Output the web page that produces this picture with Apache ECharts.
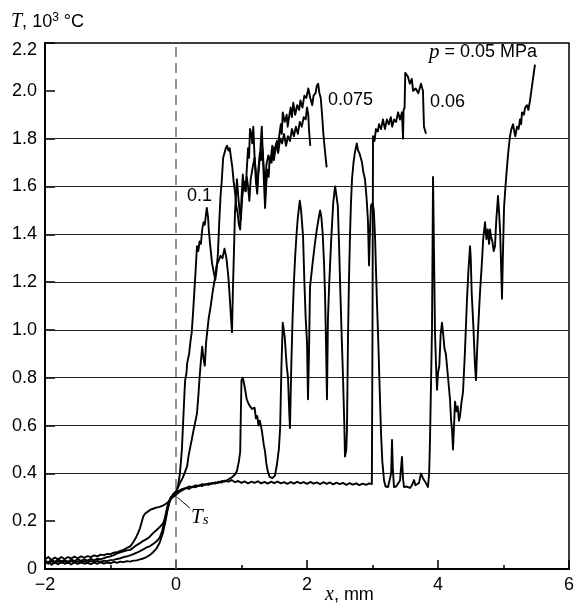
<!DOCTYPE html>
<html><head><meta charset="utf-8">
<script src="https://cdn.jsdelivr.net/npm/echarts@6/dist/echarts.min.js"></script>
<style>html,body{margin:0;padding:0;background:#fff}#c{width:579px;height:609px}</style>
</head><body><div id="c"></div>
<script>
// ---------- data (x in mm, T in 10^3 °C) ----------
const xTickLabels = ['\u22122', '0', '2', '4', '6'];
const yTickLabels = ['0', '0.2', '0.4', '0.6', '0.8', '1.0', '1.2', '1.4', '1.6', '1.8', '2.0', '2.2'];
const gridLevels = [0.4, 0.6, 0.8, 1.0, 1.2, 1.4, 1.6, 1.8];
const seriesNames = ['p = 0.1', 'p = 0.075', 'p = 0.06', 'p = 0.05'];

const curveP01 = [[-2,0.022],[-1.95,0.03],[-1.9,0.018],[-1.85,0.028],[-1.8,0.02],[-1.75,0.03],[-1.7,0.022],[-1.65,0.027],[-1.6,0.019],[-1.55,0.028],[-1.5,0.021],[-1.45,0.029],[-1.4,0.022],[-1.35,0.026],[-1.3,0.02],[-1.25,0.027],[-1.2,0.022],[-1.15,0.028],[-1.1,0.023],[-1.05,0.027],[-1.0,0.024],[-0.95,0.03],[-0.9,0.026],[-0.85,0.031],[-0.8,0.029],[-0.75,0.033],[-0.7,0.031],[-0.65,0.035],[-0.6,0.036],[-0.55,0.04],[-0.5,0.044],[-0.45,0.05],[-0.4,0.058],[-0.35,0.07],[-0.3,0.085],[-0.25,0.11],[-0.2,0.15],[-0.16,0.2],[-0.13,0.245],[-0.1,0.28],[-0.07,0.3],[-0.04,0.315],[0,0.325],[0.03,0.345],[0.06,0.40],[0.09,0.5],[0.11,0.62],[0.13,0.74],[0.14,0.79],[0.16,0.82],[0.17,0.86],[0.2,0.9],[0.22,0.95],[0.24,0.99],[0.26,1.07],[0.28,1.16],[0.3,1.25],[0.32,1.35],[0.34,1.33],[0.36,1.37],[0.38,1.36],[0.4,1.42],[0.42,1.45],[0.44,1.44],[0.46,1.49],[0.47,1.51],[0.49,1.47],[0.5,1.42],[0.52,1.36],[0.55,1.28],[0.57,1.25],[0.6,1.21],[0.62,1.25],[0.64,1.32],[0.66,1.45],[0.68,1.56],[0.7,1.63],[0.72,1.72],[0.74,1.74],[0.76,1.76],[0.78,1.77],[0.8,1.75],[0.82,1.76],[0.84,1.72],[0.86,1.68],[0.88,1.62],[0.9,1.58],[0.92,1.52],[0.94,1.49],[0.96,1.44],[0.98,1.42],[1.0,1.55],[1.02,1.65],[1.035,1.6],[1.05,1.62],[1.065,1.58],[1.08,1.67],[1.1,1.76],[1.115,1.72],[1.13,1.84],[1.15,1.82],[1.165,1.78],[1.18,1.85],[1.2,1.72],[1.22,1.66],[1.24,1.60],[1.26,1.66],[1.28,1.72],[1.3,1.81],[1.31,1.85],[1.33,1.70],[1.36,1.51],[1.38,1.62],[1.4,1.67],[1.415,1.64],[1.43,1.72],[1.46,1.70],[1.48,1.76],[1.495,1.71],[1.51,1.74],[1.54,1.79],[1.555,1.75],[1.57,1.80],[1.6,1.86],[1.615,1.82],[1.63,1.91],[1.66,1.87],[1.69,1.90],[1.705,1.85],[1.72,1.88],[1.75,1.93],[1.77,1.89],[1.79,1.95],[1.82,1.90],[1.85,1.94],[1.88,1.92],[1.9,1.96],[1.93,1.93],[1.96,1.98],[1.99,1.97],[2.02,2.01],[2.05,1.97],[2.08,1.94],[2.1,1.98],[2.13,1.99],[2.15,2.02],[2.17,2.03],[2.19,1.99],[2.21,1.97],[2.23,1.90],[2.25,1.82],[2.27,1.76],[2.3,1.68]];

const curveP0075 = [[-2,0.03],[-1.95,0.022],[-1.9,0.032],[-1.85,0.024],[-1.8,0.033],[-1.75,0.025],[-1.7,0.032],[-1.65,0.026],[-1.6,0.033],[-1.55,0.027],[-1.5,0.032],[-1.45,0.026],[-1.4,0.033],[-1.35,0.028],[-1.3,0.034],[-1.25,0.029],[-1.2,0.034],[-1.15,0.03],[-1.1,0.035],[-1.05,0.033],[-1.0,0.037],[-0.95,0.038],[-0.9,0.042],[-0.85,0.045],[-0.8,0.05],[-0.75,0.053],[-0.7,0.057],[-0.65,0.062],[-0.6,0.068],[-0.55,0.075],[-0.5,0.082],[-0.45,0.09],[-0.4,0.095],[-0.35,0.105],[-0.3,0.115],[-0.25,0.13],[-0.21,0.16],[-0.18,0.2],[-0.15,0.24],[-0.12,0.275],[-0.08,0.3],[-0.04,0.31],[0,0.32],[0.03,0.34],[0.06,0.36],[0.1,0.38],[0.13,0.4],[0.17,0.43],[0.19,0.47],[0.21,0.5],[0.24,0.54],[0.26,0.57],[0.29,0.61],[0.32,0.65],[0.34,0.72],[0.36,0.8],[0.38,0.87],[0.4,0.93],[0.42,0.88],[0.44,0.85],[0.46,0.95],[0.48,1.0],[0.5,1.05],[0.53,1.1],[0.56,1.16],[0.59,1.21],[0.62,1.27],[0.65,1.29],[0.68,1.31],[0.71,1.3],[0.74,1.34],[0.77,1.3],[0.8,1.22],[0.82,1.14],[0.84,1.05],[0.855,0.99],[0.87,1.18],[0.89,1.38],[0.9,1.49],[0.93,1.63],[0.95,1.56],[0.97,1.50],[0.99,1.46],[1.01,1.55],[1.03,1.60],[1.06,1.58],[1.08,1.64],[1.1,1.60],[1.12,1.54],[1.14,1.63],[1.17,1.68],[1.2,1.72],[1.22,1.62],[1.24,1.57],[1.26,1.68],[1.28,1.74],[1.3,1.71],[1.32,1.76],[1.34,1.68],[1.36,1.58],[1.38,1.69],[1.41,1.73],[1.44,1.70],[1.47,1.77],[1.5,1.75],[1.53,1.78],[1.56,1.74],[1.59,1.80],[1.62,1.78],[1.65,1.82],[1.68,1.77],[1.71,1.81],[1.74,1.79],[1.77,1.84],[1.8,1.81],[1.83,1.85],[1.86,1.82],[1.89,1.87],[1.92,1.85],[1.95,1.89],[1.98,1.88],[2.0,1.93],[2.02,1.90],[2.03,1.84],[2.05,1.77]];

const curveP006 = [[-2,0.04],[-1.95,0.05],[-1.9,0.038],[-1.85,0.048],[-1.8,0.04],[-1.75,0.05],[-1.7,0.042],[-1.65,0.05],[-1.6,0.044],[-1.55,0.052],[-1.5,0.045],[-1.45,0.053],[-1.4,0.047],[-1.35,0.054],[-1.3,0.05],[-1.25,0.057],[-1.2,0.053],[-1.15,0.06],[-1.1,0.058],[-1.05,0.063],[-1.0,0.062],[-0.95,0.068],[-0.9,0.07],[-0.85,0.076],[-0.8,0.08],[-0.75,0.088],[-0.7,0.095],[-0.67,0.105],[-0.64,0.118],[-0.61,0.132],[-0.58,0.15],[-0.55,0.17],[-0.52,0.2],[-0.5,0.22],[-0.47,0.232],[-0.43,0.24],[-0.39,0.248],[-0.35,0.252],[-0.3,0.257],[-0.25,0.26],[-0.2,0.265],[-0.16,0.272],[-0.12,0.28],[-0.09,0.29],[-0.05,0.30],[0,0.31],[0.05,0.322],[0.1,0.33],[0.15,0.338],[0.2,0.335],[0.25,0.345],[0.3,0.342],[0.35,0.35],[0.4,0.347],[0.45,0.355],[0.5,0.352],[0.55,0.36],[0.6,0.357],[0.65,0.365],[0.7,0.362],[0.75,0.37],[0.8,0.365],[0.85,0.372],[0.9,0.363],[0.95,0.368],[1.0,0.36],[1.05,0.366],[1.1,0.358],[1.15,0.365],[1.2,0.36],[1.25,0.367],[1.3,0.358],[1.35,0.364],[1.4,0.357],[1.45,0.365],[1.5,0.359],[1.55,0.366],[1.6,0.358],[1.65,0.363],[1.7,0.356],[1.75,0.364],[1.8,0.357],[1.85,0.365],[1.9,0.358],[1.95,0.363],[2.0,0.356],[2.05,0.364],[2.1,0.357],[2.15,0.362],[2.2,0.355],[2.25,0.363],[2.3,0.356],[2.35,0.362],[2.4,0.354],[2.45,0.361],[2.5,0.355],[2.55,0.36],[2.6,0.352],[2.65,0.359],[2.7,0.353],[2.75,0.358],[2.8,0.351],[2.85,0.357],[2.9,0.352],[2.95,0.358],[2.99,0.355],[3.0,1.0],[3.008,1.81],[3.03,1.79],[3.053,1.84],[3.08,1.83],[3.1,1.86],[3.13,1.84],[3.16,1.88],[3.19,1.84],[3.22,1.88],[3.25,1.86],[3.28,1.89],[3.3,1.85],[3.33,1.88],[3.36,1.87],[3.39,1.91],[3.42,1.88],[3.45,1.91],[3.466,1.80],[3.475,1.92],[3.49,1.93],[3.5,2.075],[3.54,2.06],[3.57,2.03],[3.6,2.05],[3.62,2.0],[3.66,2.01],[3.7,1.99],[3.74,2.03],[3.77,2.0],[3.786,1.85],[3.817,1.82]];

const curveP005 = [[-2,0.035],[-1.95,0.028],[-1.9,0.038],[-1.85,0.03],[-1.8,0.04],[-1.75,0.032],[-1.7,0.038],[-1.65,0.03],[-1.6,0.04],[-1.55,0.033],[-1.5,0.041],[-1.45,0.034],[-1.4,0.04],[-1.35,0.035],[-1.3,0.042],[-1.25,0.036],[-1.2,0.043],[-1.15,0.04],[-1.1,0.046],[-1.05,0.05],[-1.0,0.053],[-0.95,0.058],[-0.9,0.065],[-0.85,0.07],[-0.8,0.074],[-0.75,0.078],[-0.7,0.08],[-0.65,0.09],[-0.6,0.1],[-0.55,0.108],[-0.5,0.118],[-0.45,0.125],[-0.4,0.135],[-0.35,0.15],[-0.3,0.162],[-0.25,0.175],[-0.2,0.19],[-0.16,0.215],[-0.13,0.25],[-0.1,0.28],[-0.07,0.3],[-0.04,0.31],[0,0.32],[0.05,0.328],[0.1,0.335],[0.15,0.338],[0.2,0.345],[0.25,0.342],[0.3,0.35],[0.35,0.347],[0.4,0.355],[0.45,0.352],[0.5,0.358],[0.55,0.356],[0.6,0.362],[0.65,0.36],[0.7,0.368],[0.75,0.366],[0.78,0.372],[0.82,0.378],[0.86,0.385],[0.9,0.395],[0.93,0.41],[0.96,0.45],[0.98,0.49],[0.99,0.65],[1.0,0.79],[1.02,0.8],[1.05,0.76],[1.08,0.71],[1.11,0.69],[1.13,0.68],[1.16,0.67],[1.2,0.675],[1.22,0.63],[1.24,0.64],[1.26,0.6],[1.28,0.62],[1.31,0.58],[1.34,0.52],[1.36,0.49],[1.38,0.44],[1.4,0.41],[1.43,0.385],[1.47,0.38],[1.51,0.39],[1.54,0.435],[1.57,0.5],[1.59,0.59],[1.61,0.85],[1.63,1.03],[1.645,1.0],[1.66,0.97],[1.69,0.85],[1.71,0.8],[1.73,0.65],[1.74,0.59],[1.76,0.85],[1.78,1.05],[1.8,1.2],[1.82,1.31],[1.84,1.4],[1.86,1.47],[1.89,1.54],[1.91,1.5],[1.94,1.39],[1.96,1.2],[1.98,1.05],[2.0,0.95],[2.015,0.71],[2.03,0.9],[2.046,1.18],[2.07,1.24],[2.09,1.29],[2.12,1.36],[2.15,1.42],[2.18,1.47],[2.2,1.5],[2.22,1.47],[2.24,1.4],[2.26,1.28],[2.275,1.15],[2.29,0.95],[2.305,0.71],[2.32,1.05],[2.34,1.2],[2.37,1.38],[2.4,1.53],[2.42,1.58],[2.43,1.6],[2.45,1.56],[2.47,1.52],[2.49,1.35],[2.51,1.15],[2.53,0.97],[2.55,0.8],[2.57,0.6],[2.58,0.47],[2.6,0.5],[2.61,0.58],[2.626,0.97],[2.64,1.2],[2.656,1.39],[2.67,1.52],[2.687,1.63],[2.71,1.7],[2.73,1.74],[2.76,1.78],[2.78,1.75],[2.8,1.74],[2.82,1.72],[2.84,1.7],[2.86,1.66],[2.885,1.63],[2.91,1.55],[2.93,1.46],[2.947,1.27],[2.96,1.4],[2.977,1.52],[3.0,1.53],[3.02,1.5],[3.04,1.38],[3.053,1.25],[3.07,1.1],[3.084,0.99],[3.11,0.75],[3.13,0.57],[3.15,0.45],[3.176,0.37],[3.2,0.345],[3.237,0.343],[3.267,0.34],[3.285,0.4],[3.298,0.54],[3.31,0.42],[3.328,0.343],[3.36,0.345],[3.389,0.339],[3.42,0.37],[3.45,0.469],[3.465,0.38],[3.481,0.343],[3.52,0.345],[3.573,0.339],[3.6,0.35],[3.634,0.372],[3.655,0.35],[3.679,0.343],[3.71,0.36],[3.74,0.4],[3.77,0.38],[3.8,0.372],[3.825,0.355],[3.847,0.343],[3.865,0.4],[3.878,0.54],[3.895,0.8],[3.908,1.0],[3.924,1.64],[3.94,1.3],[3.954,0.99],[3.97,0.85],[3.985,0.75],[4.0,0.82],[4.02,0.85],[4.04,0.98],[4.061,1.03],[4.08,0.98],[4.1,0.92],[4.12,0.9],[4.137,0.85],[4.16,0.78],[4.183,0.71],[4.2,0.62],[4.215,0.58],[4.229,0.5],[4.245,0.6],[4.26,0.7],[4.28,0.66],[4.3,0.68],[4.32,0.62],[4.336,0.64],[4.36,0.7],[4.382,0.74],[4.41,0.9],[4.443,1.13],[4.465,1.25],[4.489,1.35],[4.5,1.3],[4.515,1.15],[4.534,1.05],[4.55,0.95],[4.565,0.85],[4.58,0.79],[4.595,0.9],[4.61,0.99],[4.64,1.15],[4.672,1.29],[4.69,1.38],[4.718,1.45],[4.74,1.38],[4.76,1.42],[4.78,1.36],[4.794,1.42],[4.81,1.39],[4.83,1.37],[4.85,1.33],[4.87,1.35],[4.89,1.46],[4.916,1.56],[4.935,1.48],[4.95,1.4],[4.965,1.25],[4.977,1.13],[4.99,1.3],[5.008,1.51],[5.03,1.6],[5.053,1.68],[5.075,1.75],[5.099,1.81],[5.12,1.84],[5.145,1.86],[5.165,1.83],[5.18,1.81],[5.206,1.85],[5.23,1.84],[5.252,1.88],[5.27,1.86],[5.282,1.91],[5.31,1.9],[5.33,1.93],[5.359,1.94],[5.38,1.92],[5.405,1.96],[5.425,2.0],[5.44,2.03],[5.46,2.07],[5.481,2.11]];

// T_s leader (data coords)
const tsLeader = [[0.02, 0.30], [0.21, 0.255]];

// ---------- chart ----------
const chart = echarts.init(document.getElementById('c'), null, {renderer: 'canvas'});
const sans = 'Liberation Sans';
const serif = 'Liberation Serif';
const lineStyle = {color: '#000', width: 1.9, join: 'round'};
const curves = [curveP01, curveP0075, curveP006, curveP005];

const series = curves.map((d, i) => ({
  name: seriesNames[i], type: 'line', data: d, showSymbol: false, symbol: 'none',
  lineStyle: lineStyle, z: 5, animation: false
}));
series.push({
  name: 'refs', type: 'line', data: [], z: 2, animation: false, silent: true,
  markLine: {
    silent: true, symbol: 'none', animation: false, label: {show: false},
    data: gridLevels.map(v => ({yAxis: v, lineStyle: {color: '#222', width: 1, type: 'solid'}}))
      .concat([{xAxis: 0, lineStyle: {color: '#6e6e6e', width: 1.5, type: [10, 6]}}])
  }
});
series.push({
  name: 'ts', type: 'line', data: [], z: 6, animation: false, silent: true,
  markLine: {
    silent: true, symbol: 'none', animation: false, label: {show: false},
    data: [[{coord: tsLeader[0], lineStyle: {color: '#000', width: 1, type: 'solid'}}, {coord: tsLeader[1]}]]
  }
});

const option = {
  animation: false,
  backgroundColor: '#fff',
  grid: {left: 45, right: 10, top: 43, bottom: 40, show: true, borderColor: '#000', borderWidth: 1.5, backgroundColor: 'transparent'},
  xAxis: {
    type: 'value', min: -2, max: 6, interval: 2,
    axisLine: {show: true, onZero: false, lineStyle: {color: '#000', width: 2}},
    axisTick: {show: true, inside: true, length: 9, lineStyle: {color: '#000', width: 1.5}},
    minorTick: {show: true, splitNumber: 2, length: 4, lineStyle: {color: '#000', width: 1.5}},
    splitLine: {show: false},
    axisLabel: {color: '#000', fontFamily: sans, fontSize: 18, margin: 7,
      formatter: (v, i) => xTickLabels[i]}
  },
  yAxis: {
    type: 'value', min: 0, max: 2.2, interval: 0.2,
    axisLine: {show: true, onZero: false, lineStyle: {color: '#000', width: 2}},
    axisTick: {show: true, inside: true, length: 10, lineStyle: {color: '#000', width: 1.5}},
    splitLine: {show: false},
    axisLabel: {color: '#000', fontFamily: sans, fontSize: 18, margin: 8,
      formatter: (v, i) => i === yTickLabels.length - 1 ? '{top|' + yTickLabels[i] + '}' : yTickLabels[i],
      rich: {top: {fontFamily: sans, fontSize: 18, color: '#000', padding: [14, 0, 0, 0]}}}
  },
  series: series,
  graphic: [
    {type: 'text', left: 11, top: 12, silent: true, style: {
      text: '{i|T}{n|, 10}{s|3}{n| \u00b0C}',
      rich: {
        i: {fontFamily: serif, fontStyle: 'italic', fontSize: 20, fill: '#000'},
        n: {fontFamily: sans, fontSize: 18, fill: '#000'},
        s: {fontFamily: sans, fontSize: 12, fill: '#000', verticalAlign: 'top', padding: [0, 0, 6, 0]}
      }}},
    {type: 'text', left: 325, top: 585, silent: true, style: {
      text: '{i|x}{n|, mm}',
      rich: {
        i: {fontFamily: serif, fontStyle: 'italic', fontSize: 20, fill: '#000'},
        n: {fontFamily: sans, fontSize: 18, fill: '#000'}
      }}},
    {type: 'text', left: 429, top: 42, silent: true, style: {
      text: '{i|p}{n| = 0.05 MPa}',
      rich: {
        i: {fontFamily: serif, fontStyle: 'italic', fontSize: 21, fill: '#000'},
        n: {fontFamily: sans, fontSize: 18, fill: '#000'}
      }}},
    {type: 'text', left: 187, top: 187, silent: true, style: {text: '0.1', fontFamily: sans, fontSize: 18, fill: '#000'}},
    {type: 'text', left: 328, top: 91, silent: true, style: {text: '0.075', fontFamily: sans, fontSize: 18, fill: '#000'}},
    {type: 'text', left: 430, top: 93, silent: true, style: {text: '0.06', fontFamily: sans, fontSize: 18, fill: '#000'}},
    {type: 'text', left: 191, top: 507, silent: true, style: {
      text: '{i|T}{s|s}',
      rich: {
        i: {fontFamily: serif, fontStyle: 'italic', fontSize: 21, fill: '#000'},
        s: {fontFamily: serif, fontStyle: 'italic', fontSize: 15, fill: '#000', verticalAlign: 'bottom', padding: [6, 0, 0, 0]}
      }}}
  ]
};
chart.setOption(option);
</script></body></html>
